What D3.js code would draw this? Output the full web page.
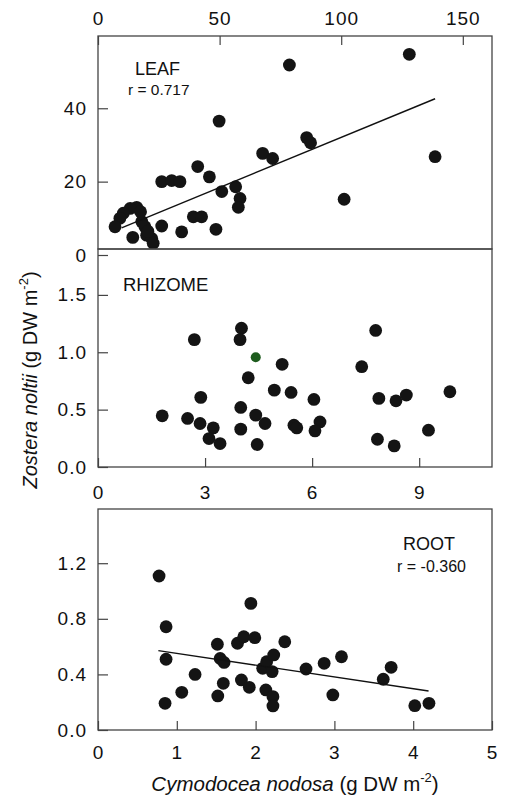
<!DOCTYPE html>
<html>
<head>
<meta charset="utf-8">
<script src="https://cdn.jsdelivr.net/npm/d3@7"></script>
<style>
  html, body { margin: 0; padding: 0; background: #fff; }
  svg { display: block; font-family: "Liberation Sans", Arial, sans-serif; }
  .tick text { font-size: 19px; fill: #111; letter-spacing: 1px; }
</style>
</head>
<body>
<svg id="chart" width="510" height="801"></svg>
<script>
// ---------- DATA ----------
// LEAF panel: x = Cymodocea nodosa leaf (top axis 0-150), y = Zostera noltii leaf
const leafX = [78.7,128,49.8,85.8,87.4,138.6,67.7,71.8,41,45.8,26.2,30.3,33.7,56.6,50.9,58.4,57.7,101.2,39.2,42.6,15.9,13.2,10.4,9,7,18,19.3,26.2,34.4,48.5,14.3,20,22.1,22.7,17.5,20.5];
const leafY = [51.8,54.7,36.5,32,30.6,26.8,27.7,26.3,24.1,21.3,20,20.3,20,18.6,17.3,15.4,13,15.2,10.4,10.4,13,12.7,11.4,10,7.7,9.1,7.7,7.9,6.3,7,4.8,5.4,4.5,3.2,11.8,6.5];
const leafFitX = [9.7, 138.6];
const leafFitY = [7.4, 42.6];
const leafXTicks = [0, 50, 100, 150];
const leafYTicks = [0, 20, 40];

// RHIZOME panel
const rhizX = [2.70,4.02,3.98,7.78,4.42,5.16,7.39,4.21,2.88,4.94,5.41,6.05,7.87,8.35,8.64,9.86,1.80,2.51,2.86,3.23,3.11,3.42,4.0,4.0,4.42,4.68,4.46,5.49,5.57,6.22,6.08,9.26,7.83,8.30];
const rhizY = [1.11,1.21,1.11,1.19,0.956,0.895,0.874,0.778,0.607,0.67,0.65,0.589,0.598,0.577,0.627,0.656,0.446,0.423,0.379,0.341,0.248,0.204,0.519,0.33,0.452,0.379,0.196,0.364,0.341,0.393,0.315,0.321,0.242,0.184];
const rhizXTicks = [0, 3, 6, 9];
const rhizYTicks = [0, 0.5, 1.0, 1.5];

// ROOT panel
const rootX = [0.775,1.94,0.864,0.864,0.851,1.063,1.232,1.515,1.55,1.60,1.59,1.52,1.77,1.85,1.99,1.82,1.92,2.13,2.22,2.22,2.09,2.14,2.23,2.21,2.37,2.64,2.87,2.98,3.09,3.62,3.72,4.02,4.20];
const rootY = [1.108,0.911,0.743,0.509,0.192,0.271,0.40,0.617,0.515,0.486,0.336,0.245,0.624,0.671,0.664,0.36,0.307,0.288,0.24,0.173,0.444,0.491,0.54,0.42,0.635,0.439,0.48,0.252,0.527,0.365,0.451,0.175,0.192];
const rootFitX = [0.766, 4.195];
const rootFitY = [0.571, 0.281];
const rootXTicks = [0, 1, 2, 3, 4, 5];
const rootYTicks = [0, 0.4, 0.8, 1.2];

// ---------- LAYOUT ----------
const svg = d3.select("#chart");
const L = 98, R = 492;
const frameColor = "#444";
const dotR = 6.4;

function frame(top, bottom) {
  svg.append("rect").attr("x", L).attr("y", top).attr("width", R - L).attr("height", bottom - top)
    .attr("fill", "none").attr("stroke", frameColor).attr("stroke-width", 1.3);
}
function styleAxis(g) {
  g.select(".domain").remove();
  g.selectAll(".tick line").attr("stroke", frameColor).attr("stroke-width", 1.2);
}
function dots(xs, ys, x, y, highlight) {
  svg.append("g").selectAll("circle").data(xs.map((v, i) => [v, ys[i], i])).join("circle")
    .attr("cx", d => x(d[0])).attr("cy", d => y(d[1]))
    .attr("r", d => d[2] === highlight ? 5 : dotR)
    .attr("fill", d => d[2] === highlight ? "#1e5c1e" : "#141414");
}
function fit(fx, fy, x, y) {
  svg.append("line").attr("x1", x(fx[0])).attr("y1", y(fy[0])).attr("x2", x(fx[1])).attr("y2", y(fy[1]))
    .attr("stroke", "#111").attr("stroke-width", 1.4);
}

// ---------- LEAF ----------
const lx = d3.scaleLinear().domain([0, 162]).range([L, R]);
const ly = d3.scaleLinear().domain([0, 59.7]).range([255, 36]);
svg.append("g").attr("transform", `translate(0,36)`)
  .call(d3.axisTop(lx).tickValues(leafXTicks).tickSize(-9).tickPadding(11).tickFormat(d3.format("d")))
  .call(styleAxis);
svg.append("g").attr("transform", `translate(${L},0)`)
  .call(d3.axisLeft(ly).tickValues(leafYTicks).tickSize(-10).tickPadding(11).tickFormat(d3.format("d")))
  .call(styleAxis);
svg.append("clipPath").attr("id", "clipLeaf").append("rect").attr("x", L).attr("y", 30).attr("width", R - L).attr("height", 219);
const leafG = svg.append("g").attr("clip-path", "url(#clipLeaf)");
leafG.selectAll("circle").data(leafX.map((v, i) => [v, leafY[i]])).join("circle")
  .attr("cx", d => lx(d[0])).attr("cy", d => ly(d[1])).attr("r", dotR).attr("fill", "#141414");
fit(leafFitX, leafFitY, lx, ly);
svg.append("text").attr("x", 135).attr("y", 75).attr("font-size", 18).attr("fill", "#111").text("LEAF");
svg.append("text").attr("x", 128).attr("y", 95).attr("font-size", 15.5).attr("fill", "#111").text("r = 0.717");

// ---------- RHIZOME ----------
const rx = d3.scaleLinear().domain([0, 11.04]).range([L, R]);
const ry = d3.scaleLinear().domain([0, 1.9]).range([467, 249]);
svg.append("g").attr("transform", `translate(0,467)`)
  .call(d3.axisBottom(rx).tickValues(rhizXTicks).tickSize(-9).tickPadding(19).tickFormat(d3.format("d")))
  .call(styleAxis);
svg.append("g").attr("transform", `translate(${L},0)`)
  .call(d3.axisLeft(ry).tickValues(rhizYTicks).tickSize(-10).tickPadding(11).tickFormat(d3.format(".1f")))
  .call(styleAxis);
dots(rhizX, rhizY, rx, ry, 4);
svg.append("text").attr("x", 123).attr("y", 291).attr("font-size", 18.5).attr("fill", "#111").text("RHIZOME");

// ---------- ROOT ----------
const ox = d3.scaleLinear().domain([0, 5]).range([L, R]);
const oy = d3.scaleLinear().domain([0, 1.59]).range([730, 509]);
svg.append("g").attr("transform", `translate(0,730)`)
  .call(d3.axisBottom(ox).tickValues(rootXTicks).tickSize(-9).tickPadding(16).tickFormat(d3.format("d")))
  .call(styleAxis);
svg.append("g").attr("transform", `translate(${L},0)`)
  .call(d3.axisLeft(oy).tickValues(rootYTicks).tickSize(-10).tickPadding(11).tickFormat(d3.format(".1f")))
  .call(styleAxis);
dots(rootX, rootY, ox, oy, -1);
fit(rootFitX, rootFitY, ox, oy);
svg.append("text").attr("x", 403).attr("y", 550).attr("font-size", 18).attr("fill", "#111").text("ROOT");
svg.append("text").attr("x", 397).attr("y", 572).attr("font-size", 16).attr("fill", "#111").text("r = -0.360");

// frames drawn last
frame(36, 249);
frame(249, 467);
frame(509, 730);

// ---------- AXIS TITLES ----------
const xt = svg.append("text").attr("x", 295).attr("y", 791).attr("text-anchor", "middle")
  .attr("font-size", 20.5).attr("fill", "#111");
xt.append("tspan").attr("font-style", "italic").text("Cymodocea nodosa");
xt.append("tspan").text(" (g DW m");
xt.append("tspan").attr("font-size", 13).attr("dy", -9).text("-2");
xt.append("tspan").attr("dy", 9).text(")");

const yt = svg.append("text").attr("transform", "translate(37,380) rotate(-90)").attr("text-anchor", "middle")
  .attr("font-size", 20).attr("fill", "#111");
yt.append("tspan").attr("font-style", "italic").text("Zostera noltii");
yt.append("tspan").text(" (g DW m");
yt.append("tspan").attr("font-size", 13).attr("dy", -9).text("-2");
yt.append("tspan").attr("dy", 9).text(")");
</script>
</body>
</html>
